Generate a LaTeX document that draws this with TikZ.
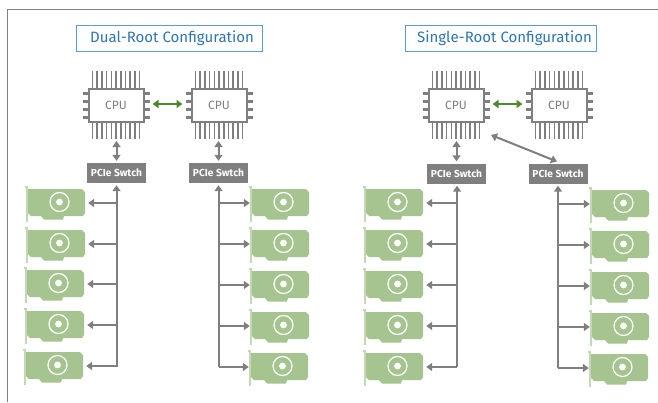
\documentclass[tikz,border=0pt]{standalone}
\usepackage{fontspec}
\setmainfont{Fira Sans}
\usetikzlibrary{arrows.meta,calc}
\definecolor{gry}{HTML}{7F7F7F}
\definecolor{frm}{HTML}{808080}
\definecolor{cardg}{HTML}{A6C48F}
\definecolor{brk}{HTML}{C3D8B4}
\definecolor{ttl}{HTML}{2E75B6}
\definecolor{ttlb}{HTML}{5B9BD5}
\definecolor{grn}{HTML}{4E8A2E}
\tikzset{
  x=1pt,y=-1pt,
  titlebox/.style={draw=ttlb,line width=1pt,fill=white,text=ttl,inner sep=0pt,minimum height=26pt,font=\fontsize{15}{17}\selectfont},
  cpubox/.style={draw=gry,line width=2pt,fill=white,text=gry,minimum width=55pt,minimum height=33pt,inner sep=0pt,font=\fontsize{12}{14}\selectfont},
  swbox/.style={fill=gry,text=white,minimum width=59pt,minimum height=20pt,inner sep=0pt,font=\bfseries\fontsize{10.2}{12}\selectfont},
  cardanchor/.style={inner sep=0pt,minimum width=62pt,minimum height=32pt},
  pin/.style={draw=gry,line width=1.6pt},
  sidepin/.style={draw=gry,line width=3pt},
  link/.style={draw=gry,line width=2pt},
  duplex/.style={link,{Triangle[length=6pt,width=8pt]}-{Triangle[length=6pt,width=8pt]}},
  feed/.style={link,-{Triangle[length=6pt,width=8pt]}},
  greenlink/.style={draw=grn,line width=2pt,{Triangle[length=6pt,width=8pt]}-{Triangle[length=6pt,width=8pt]}},
  pics/gpu/.style={code={
    \fill[cardg] (-29,-14) -- (25,-14) -- (28,-11) -- (28,10) -- (26,13) -- (7,13) -- (6,16.5) -- (-13,16.5) -- (-16,13) -- (-26,13) -- (-29,10) -- cycle;
    \draw[brk,line width=1.1pt] (-32,-16) -- (-30,-16) -- (-30,19);
    \draw[white,line width=1.2pt] (2.5,-1) circle (9.5);
    \fill[white] (2.5,-1) circle (3.4);
  }}
}
\newcommand{\chip}[3]{% name, x, y
  \foreach \i in {0,...,10}{
    \draw[pin] ($(#2,#3)+(-23.5+4.7*\i,-34)$) -- ++(0,68);
  }
  \foreach \j in {-12,-4,4,12}{
    \draw[sidepin] ($(#2,#3)+(-33.5,\j)$) -- ++(67,0);
  }
  \node[cpubox] (#1) at (#2,#3) {CPU};
}
\newcommand{\gpucard}[3]{% name, x, y
  \pic at (#2,#3) {gpu};
  \node[cardanchor] (#1) at (#2,#3) {};
}
\begin{document}
\begin{tikzpicture}
\useasboundingbox (0,0) rectangle (658,402);
\fill[white] (0,0) rectangle (658,402);
\draw[frm,line width=1.8pt] (7.5,402) -- (7.5,9.5) -- (658,9.5);

\node[titlebox,minimum width=186pt] (t1) at (169.5,38) {\hspace*{5pt}\raisebox{-1pt}{Dual-Root Configuration}};
\node[titlebox,minimum width=191pt] (t2) at (500.5,38) {\hspace*{8pt}\raisebox{-1pt}{Single-Root Configuration}};

\chip{c1}{116}{105}
\chip{c2}{219}{105}
\chip{c3}{456}{105}
\chip{c4}{559}{105}

\node[swbox] (s1) at (116.5,173) {PCIe Swtch};
\node[swbox] (s2) at (218.5,173) {PCIe Swtch};
\node[swbox] (s3) at (456.5,173.5) {PCIe Swtch};
\node[swbox] (s4) at (558,173.5) {PCIe Swtch};

\coordinate (c1b) at (116.5,141);
\coordinate (c2b) at (218.5,141);
\coordinate (c3b) at (456.5,141);
\coordinate (c3d) at (491,135);
\coordinate (s4d) at (557,161.5);

\draw[greenlink] (c1.east) ++(8,-1) -- ($(c2.west)+(-8,-1)$);
\draw[greenlink] (c3.east) ++(8,-1) -- ($(c4.west)+(-8,-1)$);
\draw[duplex] (c1b) -- ($(s1.north)+(0,-2)$);
\draw[duplex] (c2b) -- ($(s2.north)+(0,-2)$);
\draw[duplex] (c3b) -- ($(s3.north)+(0,-2)$);
\draw[duplex] (c3d) -- (s4d);

\gpucard{a1}{57}{203}
\gpucard{a2}{57}{244}
\gpucard{a3}{56}{284}
\gpucard{a4}{56}{325}
\gpucard{a5}{55}{366}
\gpucard{b1}{281}{203}
\gpucard{b2}{281}{244}
\gpucard{b3}{281}{285}
\gpucard{b4}{281}{326}
\gpucard{b5}{280}{367}
\gpucard{d1}{395}{203}
\gpucard{d2}{395}{244}
\gpucard{d3}{395}{285}
\gpucard{d4}{395}{326}
\gpucard{d5}{395}{367}
\gpucard{e1}{621}{204}
\gpucard{e2}{621}{245}
\gpucard{e3}{621}{286}
\gpucard{e4}{621}{327}
\gpucard{e5}{620}{368}

\coordinate (b1end) at (116.5,367);
\coordinate (b2end) at (218.5,367);
\coordinate (b3end) at (457,367);
\coordinate (b4end) at (558,368);
\draw[feed] (b1end) -- ($(s1.south)+(0,2)$);
\draw[feed] (b2end) -- ($(s2.south)+(0,2)$);
\draw[feed] (b3end) -- ($(s3.south)+(0.5,2)$);
\draw[feed] (b4end) -- ($(s4.south)+(0,2)$);

\foreach \n in {a1,a2,a3,a4,a5}{ \draw[feed] (b1end |- \n.center) -- (\n.east); }
\foreach \n in {b1,b2,b3,b4,b5}{ \draw[feed] (b2end |- \n.center) -- (\n.west); }
\foreach \n in {d1,d2,d3,d4,d5}{ \draw[feed] (b3end |- \n.center) -- (\n.east); }
\foreach \n in {e1,e2,e3,e4,e5}{ \draw[feed] (b4end |- \n.center) -- (\n.west); }
\end{tikzpicture}
\end{document}
